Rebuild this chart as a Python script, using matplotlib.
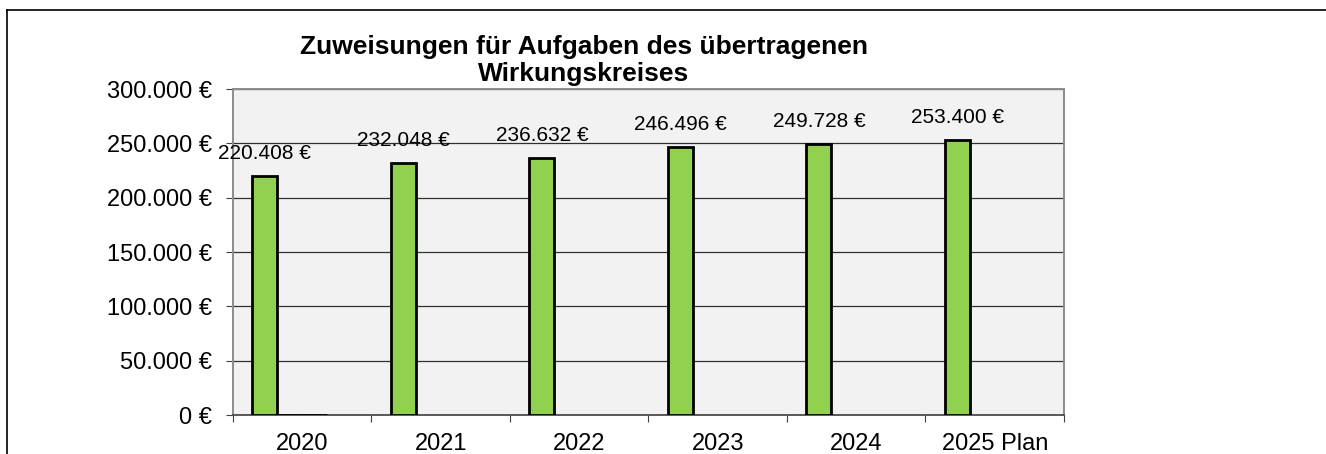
import numpy as np
import matplotlib.pyplot as plt
from matplotlib.lines import Line2D

plt.rcParams['font.family'] = ['Liberation Sans', 'DejaVu Sans']

# data
years = ['2020', '2021', '2022', '2023', '2024', '2025 Plan']
zuweisungen = [220408, 232048, 236632, 246496, 249728, 253400]
# empty helper series (only 2020 holds a zero value)
leer_a = [0, np.nan, np.nan, np.nan, np.nan, np.nan]
leer_b = [0, np.nan, np.nan, np.nan, np.nan, np.nan]
labels = ['220.408 €', '232.048 €', '236.632 €', '246.496 €', '249.728 €', '253.400 €']
yticks = [0, 50000, 100000, 150000, 200000, 250000, 300000]
ytick_labels = ['0 €', '50.000 €', '100.000 €', '150.000 €', '200.000 €', '250.000 €', '300.000 €']

fig = plt.figure(figsize=(13.26, 4.54), dpi=100)
ax = fig.add_axes([0.1757, 0.0859, 0.6267, 0.718])
ax.set_facecolor('#f2f2f2')

x = np.arange(len(years))
w = 0.18
ax.bar(x - 1.5 * w, zuweisungen, w, color='#92d050', edgecolor='black', linewidth=2.0, zorder=3)
ax.bar(x - 0.5 * w, leer_a, w, color='#92d050', edgecolor='black', linewidth=2.0, zorder=3)
ax.bar(x + 0.5 * w, leer_b, w, color='#92d050', edgecolor='black', linewidth=2.0, zorder=3)

for xi, v, lab in zip(x, zuweisungen, labels):
    ax.annotate(lab, (xi - 1.5 * w, v), xytext=(0, 16), textcoords='offset points',
                ha='center', va='center', fontsize=15)

ax.set_xlim(-0.5, len(years) - 0.5)
ax.set_ylim(0, 300000)
ax.set_yticks(yticks)
ax.set_yticklabels(ytick_labels, fontsize=17)
ax.set_xticks(x)
ax.set_xticklabels(years, fontsize=17)
ax.set_xticks(np.arange(-0.5, len(years)), minor=True)
ax.tick_params(axis='x', which='major', length=0, pad=13)
ax.tick_params(axis='x', which='minor', length=5, width=0.8, color='#404040')
ax.tick_params(axis='y', length=5, width=0.8, color='#404040', pad=10)

ax.yaxis.grid(True, color='#303030', linewidth=0.9, zorder=1)
ax.set_axisbelow(True)
for s in ['top', 'right', 'left']:
    ax.spines[s].set_color('#8c8c8c')
    ax.spines[s].set_linewidth(1.4)
ax.spines['bottom'].set_color('#404040')
ax.spines['bottom'].set_linewidth(1.2)

fig.text(0.4404, 0.866, 'Zuweisungen für Aufgaben des übertragenen\nWirkungskreises',
         ha='center', va='center', fontsize=19, fontweight='bold', linespacing=1.15)

# outer chart border
fig.add_artist(Line2D([7 / 1326, 1], [1 - 10 / 454, 1 - 10 / 454], color='black', linewidth=1.2))
fig.add_artist(Line2D([7 / 1326, 7 / 1326], [0, 1 - 10 / 454], color='black', linewidth=1.2))

fig.savefig('out.png', dpi=100)
